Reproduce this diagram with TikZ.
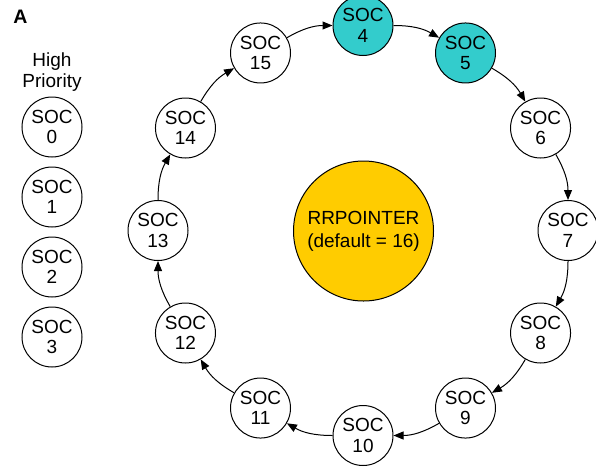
\documentclass[tikz,border=0pt]{standalone}
\usepackage{fontspec}
\setmainfont{Liberation Sans}
\usetikzlibrary{arrows.meta}
\definecolor{rrInk}{HTML}{000000}
\definecolor{rrTeal}{HTML}{33CCCC}
\definecolor{rrGold}{HTML}{FFCC00}
\tikzset{
  soc/.style   ={circle,draw=rrInk,line width=1pt,fill=white,minimum size=60pt,
                 inner sep=0pt,align=center,font=\fontsize{19}{20.5}\selectfont},
  socon/.style ={soc,fill=rrTeal},
  ptr/.style   ={soc,fill=rrGold,minimum size=140pt,font=\fontsize{19}{23}\selectfont},
  flow/.style  ={-{Triangle[length=10pt,width=8pt]},rrInk,line width=1pt},
  lbl/.style   ={font=\fontsize{19}{20.5}\selectfont,align=center,text=rrInk},
}
\begin{document}
\begin{tikzpicture}[x=1pt,y=1pt]
\useasboundingbox (0,0) rectangle (596,-466);
\node[font=\fontsize{19.5}{21}\selectfont\bfseries] (tag) at (20.5,-17) {A};

%% high priority column
\node[lbl] (hp) at (52,-72) {High\\Priority};
\foreach \k in {0,...,3} { \node[soc] (h\k) at (52,-127-70*\k) {SOC\\\k}; }

%% round robin ring
\node[ptr] (rr) at (363.5,-231) {RRPOINTER\\(default = 16)};
\begin{scope}[shift={(363,-230.5)}]
\foreach \k in {4,5} {
  \pgfmathtruncatemacro\ang{90-30*(\k-4)}
  \node[socon] (s\k) at (\ang:205) {SOC\\\k};
}
\foreach \k in {6,...,15} {
  \pgfmathtruncatemacro\ang{90-30*(\k-4)}
  \node[soc] (s\k) at (\ang:205) {SOC\\\k};
}
\end{scope}
\foreach \a/\b in {4/5,5/6,6/7,7/8,8/9,9/10,10/11,11/12,12/13,13/14,14/15,15/4} {
  \draw[flow] (s\a) to[bend left=15] (s\b);
}
\end{tikzpicture}
\end{document}
